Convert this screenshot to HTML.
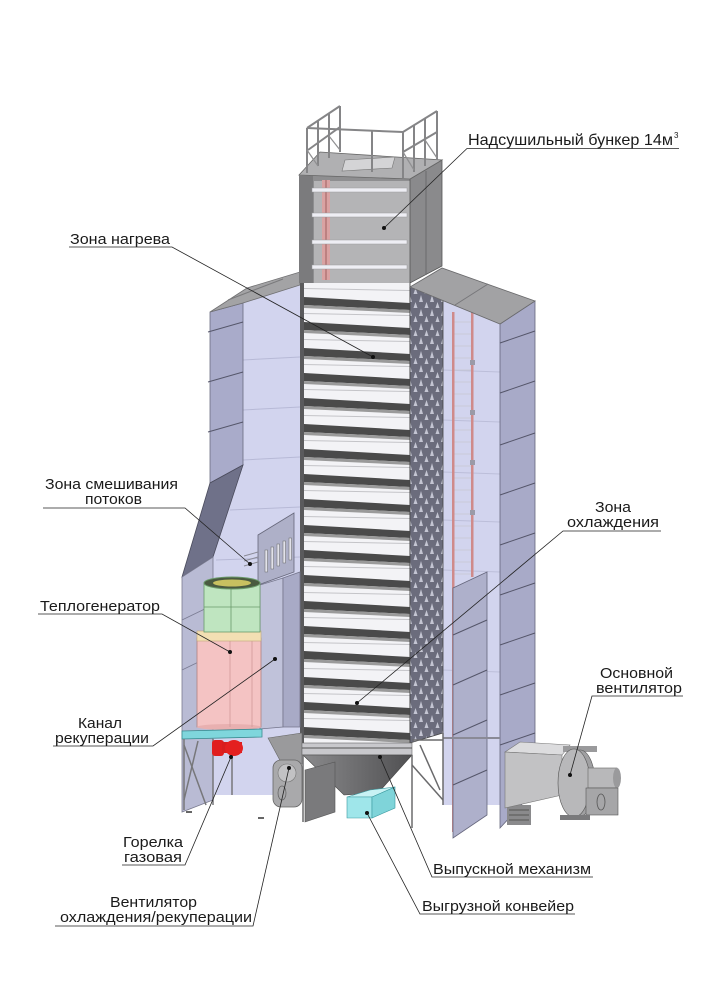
<!DOCTYPE html>
<html><head><meta charset="utf-8"><style>
html,body{margin:0;padding:0;background:#fff;}
svg{display:block;}
text{font-family:"Liberation Sans",Arial,sans-serif;fill:#1a1a1a;font-size:15px;}
</style></head><body>
<svg width="708" height="1000" viewBox="0 0 708 1000" xmlns="http://www.w3.org/2000/svg">
<defs>
<pattern id="perf" width="11" height="14" patternUnits="userSpaceOnUse">
<rect width="11" height="14" fill="#6b6c7c"/>
<path d="M3 1 L5 8 L1 8Z" fill="#c4c5d2"/>
<path d="M8.5 8 L10.5 14 L6.5 14Z" fill="#c4c5d2"/>
</pattern>
<linearGradient id="cone" x1="0" y1="0" x2="1" y2="0">
<stop offset="0" stop-color="#8a8a8c"/><stop offset="1" stop-color="#505052"/>
</linearGradient>
<g id="slat">
<path d="M304 -14 L410 -12 L410 -11 L304 -13Z" fill="#c4c4c8"/>
<path d="M304 -5 L410 1 L410 8 L304 3Z" fill="#4a4a4a"/>
<path d="M304 3 L410 8 L410 11 L304 6Z" fill="#9a9a9a"/>
</g>
</defs>

<!-- LEFT HOUSING -->
<polygon points="243,303 300,285 300,795 213,795 213,557 243,465" fill="#d2d4ee"/>
<g stroke="#b7b9d6" stroke-width="1">
<line x1="243" y1="360" x2="300" y2="357"/><line x1="243" y1="410" x2="300" y2="407"/>
<line x1="243" y1="460" x2="300" y2="457"/><line x1="230" y1="510" x2="300" y2="507"/>
<line x1="216" y1="560" x2="300" y2="557"/><line x1="213" y1="660" x2="300" y2="658"/>
</g>
<polygon points="210,312 243,303 243,465 210,483" fill="#a9abca" stroke="#6a6b80" stroke-width="0.8"/>
<g stroke="#55566a" stroke-width="1">
<line x1="208" y1="332" x2="243" y2="322"/><line x1="208" y1="382" x2="243" y2="372"/>
<line x1="208" y1="432" x2="243" y2="422"/>
</g>
<polygon points="210,312 247,288 300,272 300,285 243,303" fill="#a3a3a5" stroke="#707072" stroke-width="0.8"/>
<line x1="228" y1="300" x2="283" y2="279" stroke="#7a7a7c" stroke-width="1"/>
<polygon points="210,483 243,465 213,557 182,577" fill="#6f7189" stroke="#4a4b5c" stroke-width="0.8"/>
<polygon points="182,577 213,557 213,800 182,812" fill="#b9bbd4" stroke="#7a7b90" stroke-width="0.8"/>
<g stroke="#7a7b92" stroke-width="0.8">
<line x1="182" y1="620" x2="213" y2="605"/><line x1="182" y1="670" x2="213" y2="655"/>
</g>

<!-- RIGHT HOUSING -->
<polygon points="443,300 500,324 500,805 443,805" fill="#d2d4ee"/>
<g stroke="#bcbed9" stroke-width="1">
<line x1="443" y1="370" x2="500" y2="372"/><line x1="443" y1="420" x2="500" y2="422"/>
<line x1="443" y1="472" x2="500" y2="474"/><line x1="443" y1="520" x2="500" y2="522"/>
<line x1="443" y1="570" x2="500" y2="572"/><line x1="443" y1="670" x2="500" y2="672"/>
</g>
<!-- ladder -->
<g>
<g stroke="#c9cad8" stroke-width="1">
<line x1="453" y1="322" x2="473" y2="322"/><line x1="453" y1="334" x2="473" y2="334"/><line x1="453" y1="346" x2="473" y2="346"/>
<line x1="453" y1="358" x2="473" y2="358"/><line x1="453" y1="370" x2="473" y2="370"/><line x1="453" y1="382" x2="473" y2="382"/>
<line x1="453" y1="394" x2="473" y2="394"/><line x1="453" y1="406" x2="473" y2="406"/><line x1="453" y1="418" x2="473" y2="418"/>
<line x1="453" y1="430" x2="473" y2="430"/><line x1="453" y1="442" x2="473" y2="442"/><line x1="453" y1="454" x2="473" y2="454"/>
<line x1="453" y1="466" x2="473" y2="466"/><line x1="453" y1="478" x2="473" y2="478"/><line x1="453" y1="490" x2="473" y2="490"/>
<line x1="453" y1="502" x2="473" y2="502"/><line x1="453" y1="514" x2="473" y2="514"/><line x1="453" y1="526" x2="473" y2="526"/>
<line x1="453" y1="538" x2="473" y2="538"/><line x1="453" y1="550" x2="473" y2="550"/><line x1="453" y1="562" x2="473" y2="562"/>
<line x1="453" y1="574" x2="473" y2="574"/>
</g>
<rect x="452" y="312" width="2.5" height="520" fill="#cf8a8a"/>
<rect x="471" y="312" width="2.5" height="265" fill="#cf8a8a"/>
<g fill="#9a9aa8"><rect x="470" y="360" width="5" height="5"/><rect x="470" y="410" width="5" height="5"/><rect x="470" y="460" width="5" height="5"/><rect x="470" y="510" width="5" height="5"/></g>
</g>
<polygon points="500,324 535,301 535,790 500,828" fill="#a8aac8" stroke="#65667c" stroke-width="0.8"/>
<g stroke="#55566a" stroke-width="1">
<line x1="500" y1="343" x2="535" y2="331"/><line x1="500" y1="393" x2="535" y2="381"/>
<line x1="500" y1="445" x2="535" y2="433"/><line x1="500" y1="495" x2="535" y2="483"/>
<line x1="500" y1="545" x2="535" y2="533"/><line x1="500" y1="595" x2="535" y2="583"/>
<line x1="500" y1="645" x2="535" y2="633"/><line x1="500" y1="695" x2="535" y2="683"/>
<line x1="500" y1="745" x2="535" y2="733"/>
</g>
<polygon points="453,588 487,572 487,815 453,838" fill="#aeb0cb" stroke="#65667c" stroke-width="0.8"/>
<g stroke="#55566a" stroke-width="1">
<line x1="453" y1="635" x2="487" y2="620"/><line x1="453" y1="685" x2="487" y2="670"/>
<line x1="453" y1="735" x2="487" y2="720"/><line x1="453" y1="785" x2="487" y2="770"/>
</g>
<line x1="443" y1="738" x2="500" y2="738" stroke="#8a8a96" stroke-width="2"/>

<!-- CENTRAL COLUMN -->
<rect x="300" y="283" width="110" height="460" fill="#f3f3f6"/>
<use href="#slat" y="302"/><use href="#slat" y="327"/><use href="#slat" y="353"/>
<use href="#slat" y="378"/><use href="#slat" y="403"/><use href="#slat" y="429"/>
<use href="#slat" y="454"/><use href="#slat" y="479"/><use href="#slat" y="504"/>
<use href="#slat" y="530"/><use href="#slat" y="555"/><use href="#slat" y="580"/>
<use href="#slat" y="606"/><use href="#slat" y="631"/><use href="#slat" y="656"/>
<use href="#slat" y="682"/><use href="#slat" y="707"/><use href="#slat" y="732"/>
<rect x="300" y="283" width="4" height="462" fill="#5a5a5c"/>
<line x1="410" y1="283" x2="410" y2="745" stroke="#555" stroke-width="1"/>
<!-- perforated strip -->
<polygon points="410,287 443,280 443,733 410,743" fill="url(#perf)" stroke="#444" stroke-width="0.8"/>
<!-- right roof -->
<polygon points="410,287 442,268 535,301 500,324" fill="#a2a2a4" stroke="#6a6a6c" stroke-width="0.8"/>
<line x1="488" y1="284" x2="455" y2="305" stroke="#77777a" stroke-width="1"/>

<!-- BUNKER -->
<polygon points="299,175 410,179 410,283 299,283" fill="#8e8e90"/>
<rect x="314" y="181" width="96" height="102" fill="#b4b4b6"/>
<rect x="299" y="176" width="14" height="107" fill="#7b7b7d"/>
<rect x="322" y="180" width="8" height="100" fill="#d9a2a2"/>
<line x1="326" y1="180" x2="326" y2="280" stroke="#a06060" stroke-width="1"/>
<g fill="#eeeef4" stroke="#9a9a9c" stroke-width="0.5">
<rect x="312" y="188" width="95" height="4"/><rect x="312" y="213" width="95" height="4"/>
<rect x="312" y="240" width="95" height="4"/><rect x="312" y="265" width="95" height="4"/>
</g>
<polygon points="410,179 442,160 442,266 410,283" fill="#8a8a8c" stroke="#555" stroke-width="0.8"/>
<line x1="426" y1="171" x2="426" y2="275" stroke="#6a6a6c" stroke-width="1"/>
<polygon points="299,175 320,152 442,160 410,179" fill="#b0b0b2" stroke="#666" stroke-width="0.8"/>
<polygon points="345,160 395,157 392,168 342,171" fill="#d4d4d6" stroke="#777" stroke-width="0.6"/>
<!-- railings -->
<g stroke="#858587" stroke-width="2" fill="none">
<line x1="307" y1="128" x2="340" y2="106"/><line x1="308" y1="150" x2="340" y2="127"/>
<line x1="307" y1="128" x2="307" y2="173"/><line x1="318" y1="121" x2="318" y2="166"/>
<line x1="329" y1="114" x2="329" y2="158"/><line x1="340" y1="106" x2="340" y2="152"/>
<line x1="307" y1="128" x2="403" y2="132"/><line x1="372" y1="131" x2="372" y2="172"/>
<line x1="403" y1="132" x2="437" y2="111"/><line x1="403" y1="152" x2="437" y2="132"/>
<line x1="403" y1="132" x2="403" y2="178"/><line x1="414" y1="125" x2="414" y2="172"/>
<line x1="425" y1="118" x2="425" y2="166"/><line x1="437" y1="111" x2="437" y2="160"/>
</g>
<g stroke="#8f8f91" stroke-width="1.2">
<line x1="307" y1="150" x2="318" y2="166"/><line x1="329" y1="136" x2="340" y2="150"/>
<line x1="403" y1="152" x2="414" y2="170"/><line x1="425" y1="140" x2="437" y2="158"/>
</g>

<!-- MIXING ZONE PANEL -->
<polygon points="258,535 294,513 294,572 258,585" fill="#aeb0c8" stroke="#66677a" stroke-width="0.8"/>
<g fill="#e2e2ea" stroke="#666" stroke-width="0.5">
<rect x="265" y="550" width="2.5" height="22"/><rect x="271" y="547" width="2.5" height="22"/>
<rect x="277" y="544" width="2.5" height="22"/><rect x="283" y="541" width="2.5" height="22"/>
<rect x="289" y="538" width="2.5" height="22"/>
</g>
<g stroke="#8a8a96" stroke-width="1"><line x1="244" y1="556" x2="258" y2="552"/><line x1="244" y1="561" x2="258" y2="557"/><line x1="244" y1="566" x2="258" y2="562"/></g>
<!-- recuperation channel -->
<polygon points="260,585 283,578 283,727 260,729" fill="#c0c2da" stroke="#75768c" stroke-width="0.8"/>
<polygon points="283,578 300,572 300,727 283,727" fill="#a8aac6" stroke="#75768c" stroke-width="0.8"/>

<!-- TEPLOGENERATOR -->
<rect x="197" y="638" width="64" height="89" fill="#f4c3c3" stroke="#b08080" stroke-width="0.8"/>
<ellipse cx="229" cy="727" rx="32" ry="3" fill="#e8b0b0"/>
<line x1="230" y1="641" x2="230" y2="727" stroke="#d09a9a" stroke-width="0.8"/>
<line x1="252" y1="641" x2="252" y2="727" stroke="#d09a9a" stroke-width="0.8"/>
<rect x="197" y="631" width="64" height="10" fill="#f3dfb3" stroke="#c0a878" stroke-width="0.6"/>
<rect x="204" y="583" width="56" height="49" fill="#bfe5c0" stroke="#6a9a6a" stroke-width="0.8"/>
<line x1="231" y1="583" x2="231" y2="632" stroke="#6a9a6a" stroke-width="0.8"/>
<line x1="204" y1="607" x2="260" y2="607" stroke="#6a9a6a" stroke-width="0.8"/>
<ellipse cx="232" cy="583" rx="28" ry="6" fill="#4a5a40" stroke="#6a9a6a"/>
<ellipse cx="232" cy="583" rx="19" ry="3.5" fill="#c8c060"/>

<!-- PLATFORM & BURNER -->
<polygon points="182,731 262,729 262,737 182,739" fill="#7fd6dc" stroke="#3a8a90" stroke-width="0.8"/>
<g stroke="#77777a" stroke-width="1.5">
<line x1="184" y1="739" x2="184" y2="810"/><line x1="213" y1="739" x2="213" y2="805"/>
<line x1="184" y1="745" x2="206" y2="805"/><line x1="198" y1="741" x2="184" y2="800"/>
<line x1="232" y1="757" x2="232" y2="795"/>
</g>
<rect x="212" y="740" width="12" height="16" rx="3" fill="#e01e1e"/>
<rect x="222" y="742" width="20" height="11" fill="#d81e1e"/>
<ellipse cx="234" cy="748" rx="9" ry="8" fill="#e42020"/>
<line x1="186" y1="812" x2="192" y2="812" stroke="#333" stroke-width="1.5"/>
<line x1="258" y1="818" x2="264" y2="818" stroke="#333" stroke-width="1.5"/>

<!-- HOPPER -->
<polygon points="268,738 302,733 302,764 283,766" fill="#9a9a9c" stroke="#666" stroke-width="0.6"/>
<rect x="302" y="743" width="110" height="12" fill="#c8c8cc" stroke="#666" stroke-width="0.6"/>
<line x1="302" y1="748" x2="412" y2="748" stroke="#555" stroke-width="1"/>
<polygon points="303,755 412,755 378,793 344,795" fill="url(#cone)" stroke="#444" stroke-width="0.6"/>
<polygon points="305,770 335,762 335,812 305,822" fill="#7a7a7c" stroke="#555" stroke-width="0.6"/>
<g stroke="#6a6a6c" stroke-width="1.5">
<line x1="303" y1="755" x2="303" y2="822"/><line x1="412" y1="755" x2="412" y2="828"/>
<line x1="443" y1="733" x2="443" y2="805"/><line x1="412" y1="765" x2="443" y2="800"/>
<line x1="420" y1="745" x2="440" y2="790"/><line x1="412" y1="740" x2="443" y2="740"/>
</g>
<!-- conveyor -->
<polygon points="347,797 370,790 395,787 372,797" fill="#c8f2f4" stroke="#3a9aa0" stroke-width="0.6"/>
<polygon points="347,797 372,797 372,818 347,818" fill="#9fe6ea" stroke="#3a9aa0" stroke-width="0.6"/>
<polygon points="372,797 395,787 395,808 372,818" fill="#7fd4d9" stroke="#3a9aa0" stroke-width="0.6"/>
<!-- left fan -->
<rect x="273" y="760" width="29" height="47" rx="8" fill="#a9a9ab" stroke="#666" stroke-width="0.8"/>
<circle cx="287" cy="773" r="9" fill="#c2c2c4" stroke="#777" stroke-width="0.6"/>
<ellipse cx="282" cy="793" rx="4" ry="7" fill="none" stroke="#666" stroke-width="0.8"/>

<!-- MAIN FAN -->
<rect x="507" y="805" width="24" height="20" fill="#8a8a8c"/>
<g stroke="#555" stroke-width="1"><line x1="509" y1="810" x2="529" y2="810"/><line x1="509" y1="815" x2="529" y2="815"/><line x1="509" y1="820" x2="529" y2="820"/></g>
<polygon points="505,752 520,742 570,745 562,755" fill="#dcdcde" stroke="#777" stroke-width="0.6"/>
<polygon points="505,752 562,755 562,795 505,808" fill="#c2c2c4" stroke="#777" stroke-width="0.6"/>
<rect x="563" y="746" width="34" height="6" fill="#9a9a9c"/>
<ellipse cx="580" cy="783" rx="15" ry="33" fill="#a0a0a2" stroke="#555" stroke-width="0.6"/>
<ellipse cx="574" cy="783" rx="16" ry="34" fill="#b8b8ba" stroke="#555" stroke-width="0.6"/>
<rect x="588" y="768" width="29" height="20" fill="#b8b8ba" stroke="#666" stroke-width="0.6"/>
<ellipse cx="617" cy="778" rx="4" ry="10" fill="#9a9a9c"/>
<rect x="586" y="788" width="32" height="27" fill="#a6a6a8" stroke="#555" stroke-width="0.6"/>
<ellipse cx="601" cy="802" rx="4" ry="8" fill="none" stroke="#555" stroke-width="0.8"/>
<rect x="560" y="815" width="30" height="5" fill="#7a7a7c"/>

<!-- LEADERS -->
<g stroke="#222" stroke-width="0.8" fill="none">
<polyline points="679,148.5 467,148.5 384,228"/>
<polyline points="69,247 172,247 373,357"/>
<polyline points="43,508 185,508 250,564"/>
<polyline points="38,614 162,614 230,652"/>
<polyline points="53,746 153,746 275,659"/>
<polyline points="122,865 185,865 231,757"/>
<polyline points="55,926 253,926 289,768"/>
<polyline points="593,877 432,877 380,757"/>
<polyline points="575,914 420,914 367,813"/>
<polyline points="661,531 563,531 357,703"/>
<polyline points="683,696 592,696 570,775"/>
</g>
<g fill="#111">
<circle cx="384" cy="228" r="2"/><circle cx="373" cy="357" r="2"/><circle cx="250" cy="564" r="2"/>
<circle cx="230" cy="652" r="2"/><circle cx="275" cy="659" r="2"/><circle cx="231" cy="757" r="2"/>
<circle cx="289" cy="768" r="2"/><circle cx="380" cy="757" r="2"/><circle cx="367" cy="813" r="2"/>
<circle cx="357" cy="703" r="2"/><circle cx="570" cy="775" r="2"/>
</g>

<!-- LABELS -->
<text x="468" y="145" textLength="205" lengthAdjust="spacingAndGlyphs" style="font-size:16px">Надсушильный бункер 14м</text>
<text x="674" y="138" style="font-size:8px">3</text>
<text x="70" y="244" textLength="100" lengthAdjust="spacingAndGlyphs">Зона нагрева</text>
<text x="45" y="489" textLength="133" lengthAdjust="spacingAndGlyphs">Зона смешивания</text>
<text x="85" y="504" textLength="57" lengthAdjust="spacingAndGlyphs">потоков</text>
<text x="40" y="611" textLength="120" lengthAdjust="spacingAndGlyphs">Теплогенератор</text>
<text x="78" y="728" textLength="44" lengthAdjust="spacingAndGlyphs">Канал</text>
<text x="55" y="743" textLength="94" lengthAdjust="spacingAndGlyphs">рекуперации</text>
<text x="123" y="847" textLength="60" lengthAdjust="spacingAndGlyphs">Горелка</text>
<text x="124" y="862" textLength="58" lengthAdjust="spacingAndGlyphs">газовая</text>
<text x="110" y="907" textLength="87" lengthAdjust="spacingAndGlyphs">Вентилятор</text>
<text x="60" y="922" textLength="192" lengthAdjust="spacingAndGlyphs">охлаждения/рекуперации</text>
<text x="433" y="874" textLength="158" lengthAdjust="spacingAndGlyphs">Выпускной механизм</text>
<text x="422" y="911" textLength="152" lengthAdjust="spacingAndGlyphs">Выгрузной конвейер</text>
<text x="595" y="512" textLength="36" lengthAdjust="spacingAndGlyphs">Зона</text>
<text x="567" y="527" textLength="92" lengthAdjust="spacingAndGlyphs">охлаждения</text>
<text x="600" y="678" textLength="73" lengthAdjust="spacingAndGlyphs">Основной</text>
<text x="596" y="693" textLength="86" lengthAdjust="spacingAndGlyphs">вентилятор</text>
</svg>
</body></html>
